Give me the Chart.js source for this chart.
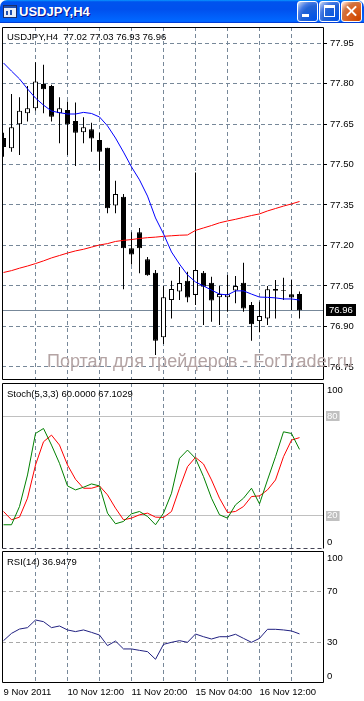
<!DOCTYPE html>
<html>
<head>
<meta charset="utf-8">
<title>USDJPY,H4</title>
<script src="https://cdn.jsdelivr.net/npm/chart.js@4.4.1/dist/chart.umd.min.js"></script>
<style>
    html, body { margin: 0; padding: 0; background: #fff; }
    body { width: 364px; height: 701px; position: relative; overflow: hidden;
           font-family: "Liberation Sans", Arial, sans-serif; }
    .titlebar { position: absolute; left: 0; top: 0; width: 364px; height: 23px;
        background: linear-gradient(180deg, #0997ff, #0053ee 8%, #0050ee 40%, #0066ff 88%, #0066ff 93%, #005bff 95%, #003dd7 96%, #003dd7);
        border-radius: 7px 7px 0 0; }
    .caption { position: absolute; left: 19px; top: 4px; color: #fff; font: bold 13px "Liberation Sans", Arial, sans-serif;
               line-height: 15px; text-shadow: 1px 1px #0f1089; }
    .icon { position: absolute; left: 3px; top: 5px; width: 12px; height: 11px; background: #e8eef8; border: 1px solid #1c2f6a; }
    .icon i { position: absolute; display: block; background: #2050b0; }
    .btn { position: absolute; top: 1px; width: 21px; height: 21px; box-sizing: border-box; border: 1px solid #fff; border-radius: 3px;
           background: radial-gradient(circle at 90% 90%, #0054e9 0%, #2263d5 55%, #4479e4 70%, #a3bbec 90%, #fff 100%); }
    .btn.close { background: radial-gradient(circle at 90% 90%, #cc4600 0%, #dc6527 55%, #cd7546 70%, #ffccb2 90%, #fff 100%); }
    .btn i { position: absolute; display: block; }
    canvas { position: absolute; left: 0; }
    .hdr { position: absolute; left: 7px; font-size: 9.5px; line-height: 11px; color: #000; white-space: pre; z-index: 2; }
    .watermark { position: absolute; left: 47px; top: 352px; font-size: 18px; line-height: 18px; color: #b4a4a4;
                 white-space: pre; z-index: 2; }
</style>
</head>
<body>

<div class="titlebar">
    <div class="icon"><i style="left:0;top:0;width:12px;height:2px"></i><i style="left:2px;top:5px;width:2px;height:4px"></i><i style="left:6px;top:4px;width:2px;height:5px"></i></div>
    <div class="caption">USDJPY,H4</div>
    <div class="btn" style="left:297px"><i style="left:4px;top:12px;width:7px;height:3px;background:#fff"></i></div>
    <div class="btn" style="left:319px"><i style="left:4px;top:3px;width:9px;height:8px;border:1px solid #fff;border-top-width:3px"></i></div>
    <div class="btn close" style="left:341px">
        <i style="left:3px;top:8px;width:13px;height:2px;background:#fff;transform:rotate(45deg)"></i>
        <i style="left:3px;top:8px;width:13px;height:2px;background:#fff;transform:rotate(-45deg)"></i>
    </div>
</div>

<canvas id="mainChart" width="364" height="356" style="top:26px"></canvas>
<canvas id="stochChart" width="364" height="168" style="top:382px"></canvas>
<canvas id="rsiChart" width="364" height="151" style="top:550px"></canvas>

<div class="hdr" style="top:31px">USDJPY,H4  77.02 77.03 76.93 76.96</div>
<div class="hdr" style="top:388px">Stoch(5,3,3) 60.0000 67.1029</div>
<div class="hdr" style="top:556px">RSI(14) 36.9479</div>
<div class="watermark">Портал для трейдеров - ForTrader.ru</div>

<script>
/* values, H4 bars oldest first */

const timeTicks = [0, 8, 16, 24, 32];
const timeLabels = ['9 Nov 2011', '10 Nov 12:00', '11 Nov 20:00', '15 Nov 04:00', '16 Nov 12:00'];
const gridBars = [4, 8, 12, 16, 20, 24, 28, 32, 36];
const priceTicks = [77.95, 77.80, 77.65, 77.50, 77.35, 77.20, 77.05, 76.90, 76.75];
const stochLevels = [80, 20];
const stochLabels = [100, 80, 20, 0];
const rsiLevels = [70, 30];
const rsiLabels = [100, 70, 30, 0];

const open = [77.598, 77.560, 77.649, 77.690, 77.708, 77.798, 77.791, 77.690, 77.702, 77.661,
              77.619, 77.631, 77.591, 77.562, 77.348, 77.381, 77.190, 77.249, 77.149, 77.099,
              76.860, 76.998, 77.030, 77.069, 77.017, 77.099, 77.062, 77.008, 77.008, 77.033,
              77.062, 76.980, 76.920, 76.930, 77.032, 77.035, 77.019, 77.020];
const high = [77.618, 77.761, 77.749, 77.791, 77.879, 77.869, 77.795, 77.749, 77.733, 77.730,
              77.675, 77.655, 77.618, 77.562, 77.440, 77.391, 77.249, 77.265, 77.157, 77.109,
              77.050, 77.069, 77.120, 77.103, 77.470, 77.106, 77.084, 77.050, 77.091, 77.087,
              77.136, 76.991, 76.992, 77.050, 77.072, 77.081, 77.072, 77.030];
const low = [77.529, 77.547, 77.535, 77.659, 77.699, 77.690, 77.659, 77.579, 77.535, 77.494,
             77.579, 77.547, 77.477, 77.319, 77.319, 77.038, 77.130, 77.097, 77.088, 76.794,
             76.835, 76.930, 76.998, 76.990, 76.980, 76.906, 76.918, 76.906, 76.955, 76.986,
             76.955, 76.847, 76.879, 76.906, 76.930, 76.998, 76.961, 76.930];
const close = [77.565, 77.638, 77.699, 77.708, 77.807, 77.779, 77.677, 77.708, 77.649, 77.618,
               77.638, 77.596, 77.547, 77.338, 77.391, 77.190, 77.167, 77.190, 77.090, 76.847,
               77.008, 77.039, 77.061, 77.007, 77.109, 77.047, 76.996, 77.020, 77.019, 77.050,
               76.967, 76.908, 76.939, 77.038, 77.039, 77.032, 77.007, 76.960];

const maFast = [77.876, 77.846, 77.817, 77.780, 77.746, 77.720, 77.698, 77.692, 77.687, 77.687,
                77.693, 77.689, 77.676, 77.643, 77.598, 77.546, 77.491, 77.443, 77.383, 77.302,
                77.243, 77.176, 77.131, 77.091, 77.065, 77.050, 77.035, 77.020, 77.017, 77.032,
                77.032, 77.020, 77.009, 77.008, 77.006, 77.002, 77.002, 76.998];
const maSlow = [77.100, 77.107, 77.116, 77.124, 77.133, 77.143, 77.154, 77.163, 77.172, 77.180,
                77.186, 77.194, 77.202, 77.207, 77.215, 77.219, 77.222, 77.226, 77.229, 77.231,
                77.234, 77.236, 77.238, 77.239, 77.256, 77.265, 77.274, 77.284, 77.291, 77.297,
                77.304, 77.311, 77.317, 77.328, 77.337, 77.346, 77.354, 77.363];

const stochMain = [14.6, 14.6, 25.6, 44.6, 69.6, 72.6, 62.6, 51.6, 38.0, 35.6,
                   37.2, 39.2, 38.0, 21.6, 15.2, 16.6, 21.2, 22.6, 19.6, 14.6,
                   21.6, 33.6, 54.6, 59.6, 54.6, 43.6, 30.6, 20.6, 18.6, 26.6,
                   30.6, 36.6, 27.2, 41.6, 55.6, 70.6, 69.6, 60.0];
const stochSignal = [22.6, 17.6, 19.2, 30.6, 50.6, 64.6, 68.6, 62.6, 50.6, 42.0,
                     36.6, 36.6, 38.0, 32.6, 24.6, 17.6, 18.6, 20.6, 21.6, 19.2,
                     19.0, 22.6, 36.6, 49.6, 55.2, 51.2, 41.6, 30.6, 22.0, 22.6,
                     25.6, 31.6, 32.0, 35.6, 41.6, 55.6, 65.6, 67.1];
const rsi = [31.6, 37.3, 40.7, 41.8, 47.8, 46.5, 41.8, 43.1, 40.0, 38.7,
             40.0, 38.1, 36.0, 27.7, 31.3, 25.1, 25.1, 24.0, 23.0, 17.0,
             28.7, 30.3, 31.6, 30.3, 36.8, 34.7, 32.9, 34.7, 34.7, 36.6,
             33.4, 30.3, 33.4, 40.5, 40.5, 40.0, 39.2, 36.9];

/* look */
const GRID_COLOR = '#778899';
const FONT = '"Liberation Sans", Arial, sans-serif';
const X_MIN = -0.1875, X_MAX = 39.9375; // 8px per bar over the 321px plot
Chart.defaults.font.family = FONT;
Chart.defaults.font.size = 9.5;
Chart.defaults.color = '#000';

const toPoints = arr => arr.map((v, i) => ({ x: i, y: v }));

// black outline round each pane (stochastic pane has a dotted bottom edge)
const panelFrame = {
    id: 'panelFrame',
    afterDraw(chart, args, opts) {
        const { ctx, chartArea: a } = chart;
        ctx.save();
        ctx.strokeStyle = '#000';
        ctx.lineWidth = 1;
        ctx.beginPath();
        ctx.moveTo(a.left + 0.5, a.bottom - 0.5);
        ctx.lineTo(a.left + 0.5, a.top + 0.5);
        ctx.lineTo(a.right + 0.5, a.top + 0.5);
        ctx.lineTo(a.right + 0.5, a.bottom - 0.5);
        if (!opts.dashedBottom) ctx.lineTo(a.left + 0.5, a.bottom - 0.5);
        ctx.stroke();
        if (opts.dashedBottom) {
            ctx.setLineDash([4, 3]);
            ctx.strokeStyle = '#445';
            ctx.beginPath();
            ctx.moveTo(a.left + 0.5, a.bottom - 0.5);
            ctx.lineTo(a.right + 0.5, a.bottom - 0.5);
            ctx.stroke();
        }
        ctx.restore();
    }
};

// bid line across the price pane plus its black price box
const bidLine = {
    id: 'bidLine',
    beforeDatasetsDraw(chart, args, opts) {
        const { ctx, chartArea: a, scales: { y } } = chart;
        const py = Math.round(y.getPixelForValue(opts.value)) + 0.5;
        ctx.save();
        ctx.strokeStyle = GRID_COLOR;
        ctx.lineWidth = 1;
        ctx.beginPath();
        ctx.moveTo(a.left, py);
        ctx.lineTo(a.right, py);
        ctx.stroke();
        ctx.restore();
    },
    afterDraw(chart, args, opts) {
        const { ctx, chartArea: a, scales: { y } } = chart;
        const py = Math.round(y.getPixelForValue(opts.value));
        ctx.save();
        ctx.fillStyle = '#000';
        ctx.fillRect(a.right + 3, py - 6, 30, 12);
        ctx.fillStyle = '#fff';
        ctx.font = '9.5px ' + FONT;
        ctx.textBaseline = 'middle';
        ctx.fillText(opts.value.toFixed(2), a.right + 6, py + 0.5);
        ctx.restore();
    }
};

// indicator scale labels, kept inside the pane at its edges
const sideLabels = {
    id: 'sideLabels',
    afterDraw(chart, args, opts) {
        const { ctx, chartArea: a, scales: { y } } = chart;
        ctx.save();
        ctx.font = '9.5px ' + FONT;
        ctx.textBaseline = 'middle';
        ctx.textAlign = 'left';
        (opts.values || []).forEach(v => {
            let py = y.getPixelForValue(v);
            py = Math.min(Math.max(py, a.top + 7.5), a.bottom - 6.5);
            const text = String(v);
            if ((opts.boxed || []).includes(v)) {
                const w = ctx.measureText(text).width;
                ctx.fillStyle = '#c0c0c0';
                ctx.fillRect(a.right + 3, Math.round(py) - 5, w + 3, 10);
                ctx.fillStyle = '#fff';
            } else {
                ctx.fillStyle = '#000';
            }
            ctx.fillText(text, a.right + 4, py);
        });
        ctx.restore();
    }
};

function timeScale(showLabels) {
    return {
        type: 'linear', min: X_MIN, max: X_MAX, offset: false, bounds: 'data',
        grid: {
            color: c => (c.tick && c.tick.value === 0) ? 'rgba(0,0,0,0)' : GRID_COLOR,
            drawTicks: false, offset: false, lineWidth: 1
        },
        border: { display: false, dash: [4, 3] },
        ticks: {
            display: showLabels, autoSkip: false, maxRotation: 0, minRotation: 0,
            align: 'start', padding: 4, color: '#000',
            callback: v => {
                const i = timeTicks.indexOf(v);
                return i < 0 ? '' : timeLabels[i];
            }
        },
        afterBuildTicks: s => {
            s.ticks = (showLabels ? [0].concat(gridBars) : gridBars).map(v => ({ value: v }));
        },
        afterFit: s => {
            s.height = showLabels ? 18 : 0;
            s.paddingLeft = 0; s.paddingRight = 0; s.paddingTop = 0; s.paddingBottom = 0;
        }
    };
}

function levelScale(min, max, levels, color, dash) {
    return {
        type: 'linear', position: 'right', min: min, max: max, bounds: 'data',
        grid: { color: color, drawTicks: false },
        border: { display: false, dash: dash },
        ticks: { display: false },
        afterBuildTicks: s => { s.ticks = levels.map(v => ({ value: v })); },
        afterFit: s => {
            s.width = 41;
            s.paddingLeft = 0; s.paddingRight = 0; s.paddingTop = 0; s.paddingBottom = 0;
        }
    };
}

const baseOptions = {
    responsive: false,
    animation: false,
    devicePixelRatio: 1,
    events: [],
};

// price pane: candles + two moving averages
new Chart(document.getElementById('mainChart'), {
    type: 'bar',
    data: {
        datasets: [
            { type: 'line', label: 'MA fast', data: toPoints(maFast), borderColor: '#0000ff',
              borderWidth: 1, pointRadius: 0, tension: 0, order: 0 },
            { type: 'line', label: 'MA slow', data: toPoints(maSlow), borderColor: '#ff0000',
              borderWidth: 1, pointRadius: 0, tension: 0, order: 0 },
            { label: 'body', data: open.map((o, i) => ({ x: i, y: [Math.min(o, close[i]), Math.max(o, close[i])] })),
              backgroundColor: open.map((o, i) => close[i] >= o ? '#ffffff' : '#000000'),
              borderColor: '#000', borderWidth: 1, borderSkipped: false,
              barThickness: 5, grouped: false, inflateAmount: 0, order: 1 },
            { label: 'wick', data: low.map((l, i) => ({ x: i, y: [l, high[i]] })),
              backgroundColor: '#000', borderWidth: 0,
              barThickness: 1, grouped: false, inflateAmount: 0, order: 2 }
        ]
    },
    options: Object.assign({}, baseOptions, {
        layout: { padding: { left: 2, top: 1, right: 0, bottom: 2 } },
        plugins: {
            legend: { display: false }, tooltip: { enabled: false },
            bidLine: { value: close[close.length - 1] },
            panelFrame: {}
        },
        scales: {
            x: timeScale(false),
            y: {
                type: 'linear', position: 'right', min: 76.70185, max: 78.00926, bounds: 'data',
                grid: { color: GRID_COLOR, drawTicks: true, tickLength: 4, tickColor: '#000', tickBorderDash: [], tickWidth: 1 },
                border: { display: false, dash: [4, 3] },
                ticks: { padding: 3, color: '#000', callback: v => Number(v).toFixed(2) },
                afterBuildTicks: s => { s.ticks = priceTicks.map(v => ({ value: v })); },
                afterFit: s => {
                    s.width = 41;
                    s.paddingLeft = 0; s.paddingRight = 0; s.paddingTop = 0; s.paddingBottom = 0;
                }
            }
        }
    }),
    plugins: [bidLine, panelFrame]
});

// stochastic pane
new Chart(document.getElementById('stochChart'), {
    type: 'line',
    data: {
        datasets: [
            { label: 'Main', data: toPoints(stochMain), borderColor: '#008000', borderWidth: 1, pointRadius: 0, tension: 0 },
            { label: 'Signal', data: toPoints(stochSignal), borderColor: '#ff0000', borderWidth: 1, pointRadius: 0, tension: 0 }
        ]
    },
    options: Object.assign({}, baseOptions, {
        layout: { padding: { left: 2, top: 1, right: 0, bottom: 1 } },
        plugins: {
            legend: { display: false }, tooltip: { enabled: false },
            panelFrame: { dashedBottom: true },
            sideLabels: { values: stochLabels, boxed: stochLevels }
        },
        scales: {
            x: timeScale(false),
            y: levelScale(0, 100, stochLevels, '#c0c0c0', [])
        }
    }),
    plugins: [panelFrame, sideLabels]
});

// RSI pane with the time axis
new Chart(document.getElementById('rsiChart'), {
    type: 'line',
    data: {
        datasets: [
            { label: 'RSI(14)', data: toPoints(rsi), borderColor: '#202080', borderWidth: 1, pointRadius: 0, tension: 0 }
        ]
    },
    options: Object.assign({}, baseOptions, {
        layout: { padding: { left: 2, top: 1, right: 0, bottom: 0 } },
        plugins: {
            legend: { display: false }, tooltip: { enabled: false },
            panelFrame: {},
            sideLabels: { values: rsiLabels, boxed: [] }
        },
        scales: {
            x: timeScale(true),
            y: levelScale(-1.6, 101.9, rsiLevels, '#a8a8a8', [4, 3])
        }
    }),
    plugins: [panelFrame, sideLabels]
});
</script>
</body>
</html>
